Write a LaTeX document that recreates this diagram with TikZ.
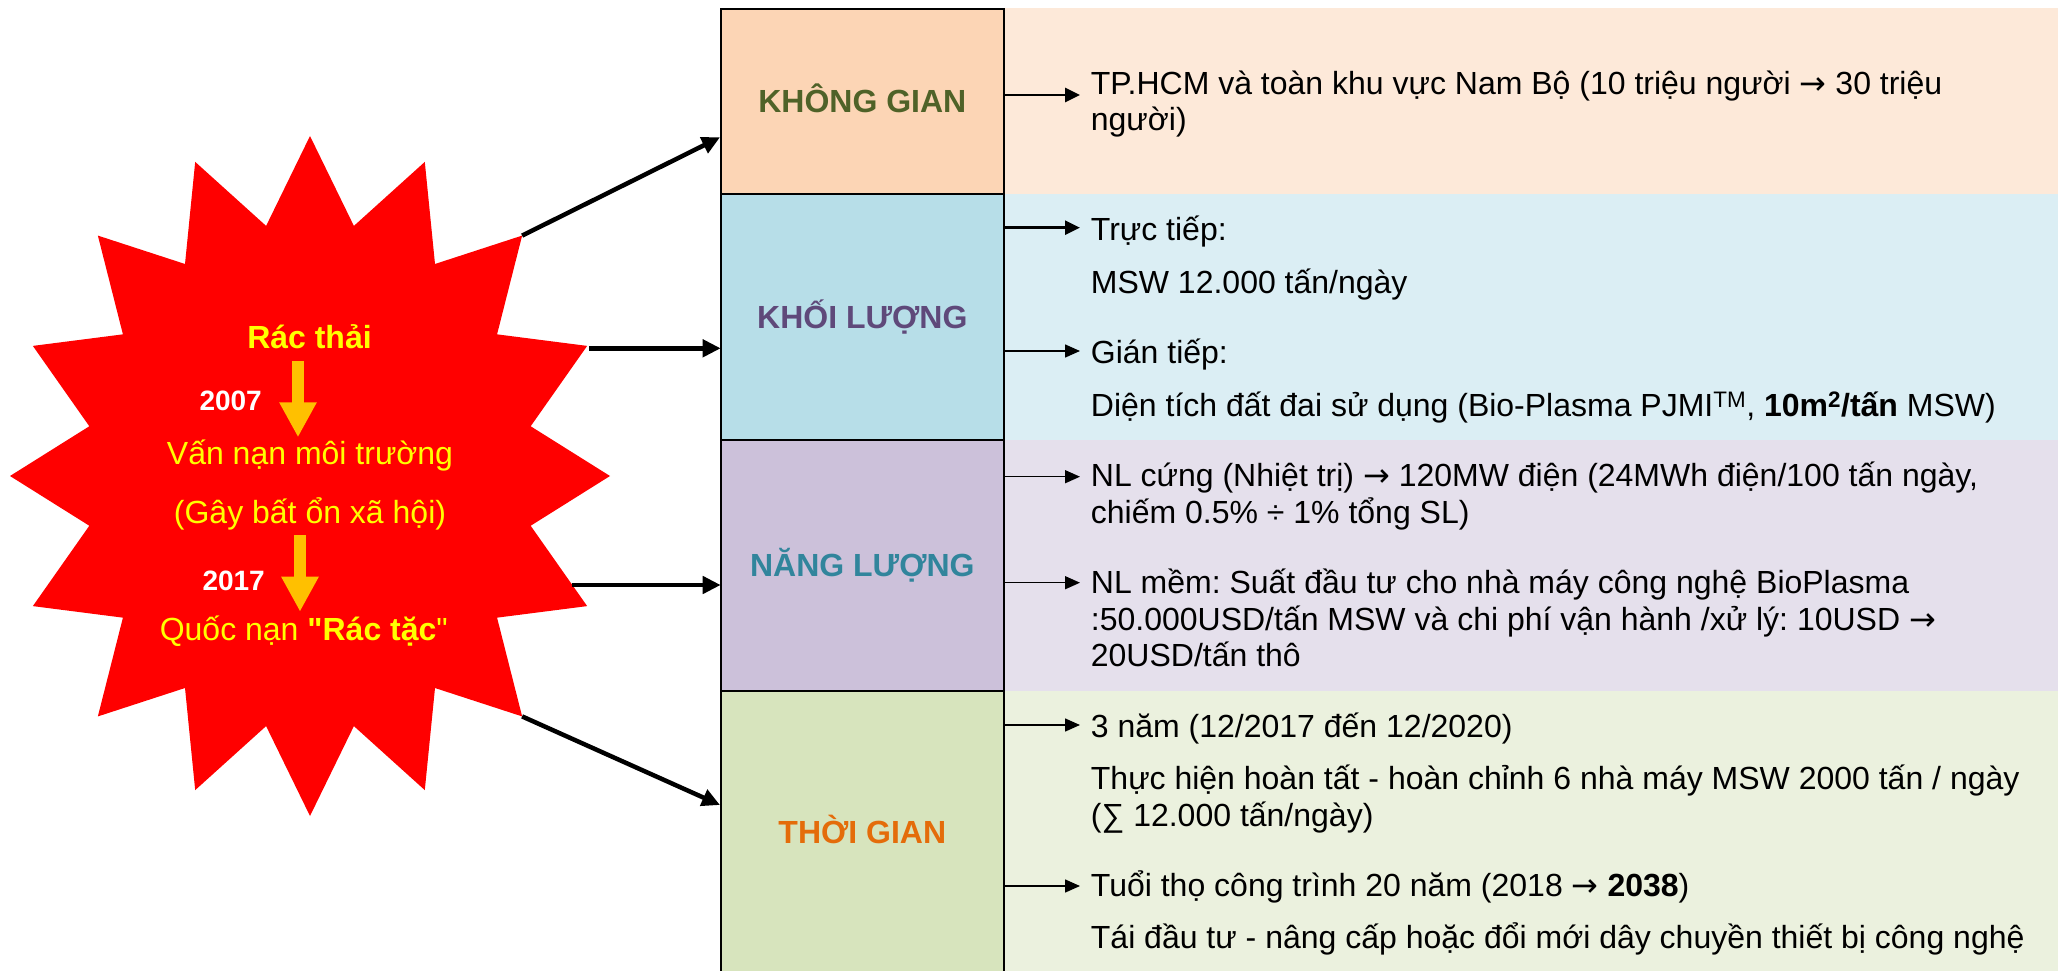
\documentclass[tikz,border=0pt]{standalone}
\usepackage{fontspec}
\setmainfont{Liberation Sans}[Ligatures=TeXOff]
\newfontfamily\arrfont{DejaVu Sans}
\newcommand{\rarr}{{\arrfont →}}
\usetikzlibrary{arrows.meta}
\definecolor{pkA}{HTML}{FDE9D9}
\definecolor{pkB}{HTML}{DBEEF4}
\definecolor{pkC}{HTML}{E5E0EC}
\definecolor{pkD}{HTML}{EBF1DE}
\definecolor{bxA}{HTML}{FCD5B5}
\definecolor{bxB}{HTML}{B7DEE8}
\definecolor{bxC}{HTML}{CCC1DA}
\definecolor{bxD}{HTML}{D7E4BD}
\definecolor{hA}{HTML}{4F6228}
\definecolor{hB}{HTML}{5F497A}
\definecolor{hC}{HTML}{31859C}
\definecolor{hD}{HTML}{E46C0A}
\definecolor{starred}{HTML}{FF0000}
\definecolor{staryel}{HTML}{FFFF00}
\definecolor{arrorange}{HTML}{FFC000}
\begin{document}
\frenchspacing
\begin{tikzpicture}[x=1pt,y=-1pt,
  catbox/.style={draw=black, line width=2pt, inner sep=0pt, outer sep=0pt, anchor=north west},
  headtxt/.style={font=\fontsize{32}{36.8}\selectfont\bfseries, anchor=base, inner sep=0pt},
  bodytxt/.style={font=\fontsize{32}{36.8}\selectfont, anchor=base west, inner sep=0pt, text=black},
  startxt/.style={font=\fontsize{32}{36.8}\selectfont, anchor=base, inner sep=0pt, text=staryel},
  yeartxt/.style={font=\fontsize{28}{32}\selectfont\bfseries, anchor=base west, inner sep=0pt, text=white},
  bigarrow/.style={line width=4.5pt, -{Triangle[length=18pt,width=17pt]}},
  parrow/.style={line width=1.5pt, -{Triangle[length=15pt,width=13pt]}},
  parrowthick/.style={line width=2.7pt, -{Triangle[length=15pt,width=14pt]}},
  orarrow/.style={draw=arrorange, line width=12pt, -{Triangle[length=35pt,width=35pt]}}
]
\useasboundingbox (0,0) rectangle (2058,971);

% right panels
\fill[pkA] (1004,8.3) rectangle (2058,194.3);
\fill[pkB] (1004,194.3) rectangle (2058,440);
\fill[pkC] (1004,440) rectangle (2058,690.7);
\fill[pkD] (1004,690.7) rectangle (2058,980);

% left category boxes
\node[catbox, fill=bxA, minimum width=283.3pt, minimum height=185.3pt] (kg) at (720.7,9) {};
\node[catbox, fill=bxB, minimum width=283.3pt, minimum height=245.7pt] (kl) at (720.7,194.3) {};
\node[catbox, fill=bxC, minimum width=283.3pt, minimum height=250.7pt] (nl) at (720.7,440) {};
\node[catbox, fill=bxD, minimum width=283.3pt, minimum height=284.3pt] (tg) at (720.7,690.7) {};

\node[headtxt, text=hA] (hkg) at (862.35,112.7) {KHÔNG GIAN};
\node[headtxt, text=hB] (hkl) at (862.35,328.3) {KHỐI LƯỢNG};
\node[headtxt, text=hC] (hnl) at (862.35,576.7) {NĂNG LƯỢNG};
\node[headtxt, text=hD] (htg) at (862.35,843.3) {THỜI GIAN};

% star
\fill[starred] plot[samples at={0,...,31}]
  ({310+(isodd(\x)?225:300)*sin(\x*11.25)}, {476-(isodd(\x)?255:340)*cos(\x*11.25)}) -- cycle;
\coordinate (s1) at (522.1,235.6);
\coordinate (s2) at (589,348.3);
\coordinate (s3) at (572,585);
\coordinate (s4) at (522.1,716.4);
\coordinate (e1) at (720,137.3);
\coordinate (e2) at (720.7,348.3);
\coordinate (e3) at (720.7,585);
\coordinate (e4) at (720,805);

\node[startxt, font=\fontsize{32}{36.8}\selectfont\bfseries] (r1) at (309.5,348.3) {Rác thải};
\node[yeartxt] (y1) at (199.3,410.7) {2007};
\node[startxt] (r2) at (310,464) {Vấn nạn môi trường};
\node[startxt] (r3) at (310,523.3) {(Gây bất ổn xã hội)};
\node[yeartxt] (y2) at (202.3,590.7) {2017};
\node[startxt] (r4) at (303.8,640) {Quốc nạn \textbf{"Rác tặc}"};

\coordinate (o1a) at (298,361);
\coordinate (o1b) at (298,437.3);
\coordinate (o2a) at (300,535);
\coordinate (o2b) at (300,611.7);
\draw[orarrow] (o1a) -- (o1b);
\draw[orarrow] (o2a) -- (o2b);

\draw[bigarrow] (s1) -- (e1);
\draw[bigarrow] (s2) -- (e2);
\draw[bigarrow] (s3) -- (e3);
\draw[bigarrow] (s4) -- (e4);

% body texts
\node[bodytxt] (t1a) at (1090.7,95) {TP.HCM và toàn khu vực Nam Bộ (10 triệu người \rarr{} 30 triệu};
\node[bodytxt] (t1b) at (1090.7,130.7) {người)};
\node[bodytxt] (t2a) at (1090.7,240) {Trực tiếp:};
\node[bodytxt] (t2b) at (1090.7,293.3) {MSW 12.000 tấn/ngày};
\node[bodytxt] (t2c) at (1090.7,363.3) {Gián tiếp:};
\node[bodytxt] (t2d) at (1090.7,416.7) {Diện tích đất đai sử dụng (Bio-Plasma PJMI\textsuperscript{TM}, \textbf{10m\textsuperscript{2}/tấn} MSW)};
\node[bodytxt] (t3a) at (1090.7,486.7) {NL cứng (Nhiệt trị) \rarr{} 120MW điện (24MWh điện/100 tấn ngày,};
\node[bodytxt] (t3b) at (1090.7,523.3) {chiếm 0.5\% ÷ 1\% tổng SL)};
\node[bodytxt] (t3c) at (1090.7,593.3) {NL mềm: Suất đầu tư cho nhà máy công nghệ BioPlasma};
\node[bodytxt] (t3d) at (1090.7,630.7) {:50.000USD/tấn MSW và chi phí vận hành /xử lý: 10USD \rarr};
\node[bodytxt] (t3e) at (1090.7,666.7) {20USD/tấn thô};
\node[bodytxt] (t4a) at (1090.7,737.3) {3 năm (12/2017 đến 12/2020)};
\node[bodytxt] (t4b) at (1090.7,789.3) {Thực hiện hoàn tất - hoàn chỉnh 6 nhà máy MSW 2000 tấn / ngày};
\node[bodytxt] (t4c) at (1090.7,826) {(∑ 12.000 tấn/ngày)};
\node[bodytxt] (t4d) at (1090.7,896) {Tuổi thọ công trình 20 năm (2018 \rarr{} \textbf{2038})};
\node[bodytxt] (t4e) at (1090.7,948.3) {Tái đầu tư - nâng cấp hoặc đổi mới dây chuyền thiết bị công nghệ};

% panel arrows
\coordinate (a1) at (1004,95);    \coordinate (b1) at (1080,95);
\coordinate (a2) at (1004,227.7); \coordinate (b2) at (1080,227.7);
\coordinate (a3) at (1003,351);   \coordinate (b3) at (1080,351);
\coordinate (a4) at (1004,476.7); \coordinate (b4) at (1080,476.7);
\coordinate (a5) at (1004,582.7); \coordinate (b5) at (1080,582.7);
\coordinate (a6) at (1004,725);   \coordinate (b6) at (1080,725);
\coordinate (a7) at (1004,886);   \coordinate (b7) at (1080,886);
\draw[parrowthick] (a1) -- (b1);
\draw[parrowthick] (a2) -- (b2);
\draw[parrow] (a3) -- (b3);
\draw[parrow] (a4) -- (b4);
\draw[parrow] (a5) -- (b5);
\draw[parrow] (a6) -- (b6);
\draw[parrow] (a7) -- (b7);
\end{tikzpicture}
\end{document}
